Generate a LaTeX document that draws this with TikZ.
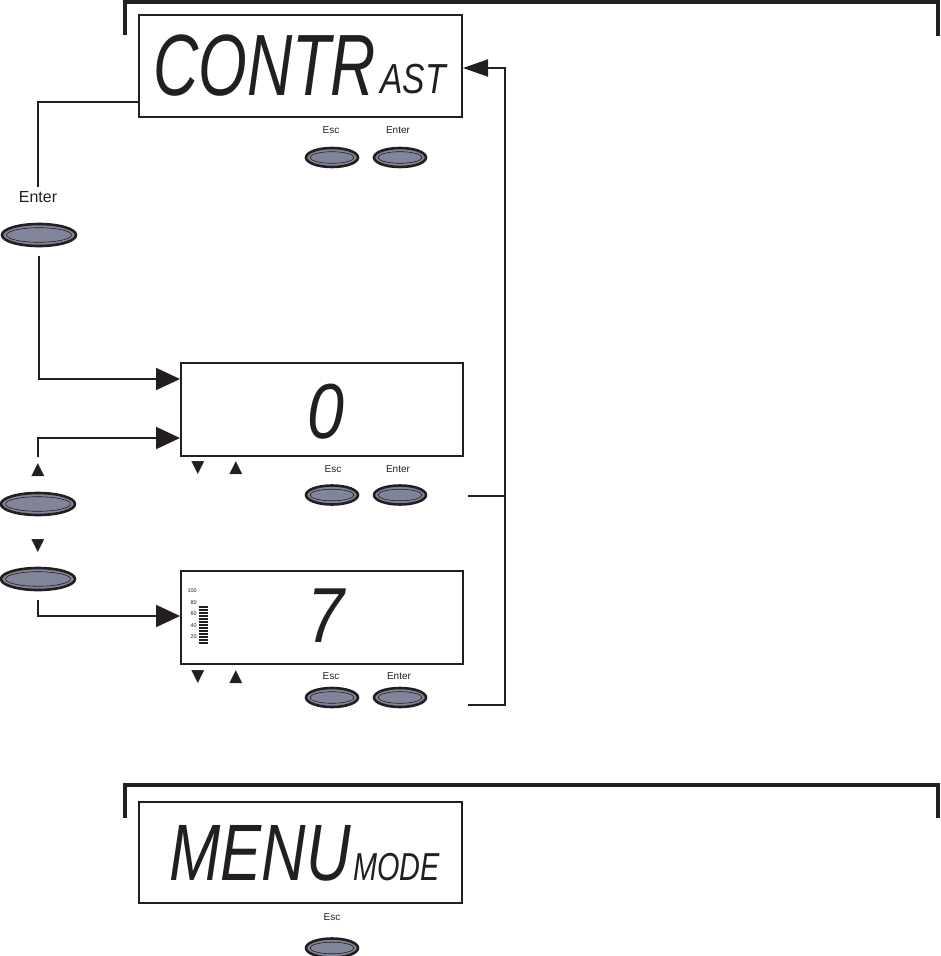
\documentclass[tikz,border=0pt]{standalone}
\usepackage{fontspec}
\setmainfont{Liberation Sans}
\newfontfamily\symfont{DejaVu Sans}
\usetikzlibrary{arrows.meta,shapes.geometric,calc}
\definecolor{ink}{RGB}{35,31,32}
\definecolor{btnfill}{RGB}{128,133,153}
\begin{document}
\begin{tikzpicture}[x=1pt,y=-1pt,
  disp/.style={draw=ink,line width=2pt,rectangle,inner sep=0pt},
  lcd/.style={inner sep=0pt,anchor=base west,font=\itshape,text=ink},
  lbl/.style={inner sep=0pt,font=\fontsize{10}{10}\selectfont,text=ink},
  bigl/.style={inner sep=0pt,font=\fontsize{16}{16}\selectfont,text=ink},
  tri/.style={inner sep=0pt,font=\symfont\fontsize{17}{17}\selectfont,text=ink},
  tiny/.style={inner sep=0pt,anchor=east,font=\fontsize{5.5}{5.5}\selectfont,text=ink},
  btn/.style={ellipse,draw=ink,line width=2.6pt,fill=btnfill,inner sep=0pt,
    minimum width=52pt,minimum height=19pt,
    path picture={\draw[ink,line width=0.6pt] (path picture bounding box.center) ellipse (22pt and 5.8pt);}},
  bigbtn/.style={ellipse,draw=ink,line width=2.6pt,fill=btnfill,inner sep=0pt,
    minimum width=74pt,minimum height=22pt,
    path picture={\draw[ink,line width=0.6pt] (path picture bounding box.center) ellipse (32.5pt and 7.3pt);}},
  conn/.style={draw=ink,line width=2pt},
  arr/.style={draw=ink,line width=2pt,-{Triangle[length=24pt,width=22pt]}},
  bracket/.style={draw=ink,line width=4pt},
  bar/.style={draw=ink,line width=1.6pt}
]
\useasboundingbox (0,0) rectangle (940,956);

% brackets
\draw[bracket] (125,35) |- (938,2) -- (938,36);
\draw[bracket] (125,818) |- (938,785) -- (938,818);

% displays
\node[disp,minimum width=323pt,minimum height=102pt] (d1) at (300.5,66) {};
\node[disp,minimum width=282pt,minimum height=93pt] (d2) at (322,409.5) {};
\node[disp,minimum width=282pt,minimum height=93pt] (d3) at (322,617.5) {};
\node[disp,minimum width=323pt,minimum height=101pt] (d4) at (300.5,852.5) {};

% LCD texts
\node[lcd] (t1) at (153,95) {\fontsize{87}{87}\selectfont\scalebox{0.72}[1]{CONTR}};
\node[lcd] (t1b) at (380,93) {\fontsize{42}{42}\selectfont\scalebox{0.8}[1]{AST}};
\node[lcd] (t2) at (307,438) {\fontsize{78}{78}\selectfont\scalebox{0.85}[1]{0}};
\node[lcd] (t3) at (307,642) {\fontsize{78}{78}\selectfont\scalebox{0.85}[1]{7}};
\node[lcd] (t4) at (169,880) {\fontsize{80}{80}\selectfont\scalebox{0.77}[1]{MENU}};
\node[lcd] (t4b) at (353,880) {\fontsize{39}{39}\selectfont\scalebox{0.74}[1]{MODE}};

% bar graph in d3
\node[tiny] (g100) at (197,591) {100};
\node[tiny] (g80) at (197,603) {80};
\node[tiny] (g60) at (197,614) {60};
\node[tiny] (g40) at (197,626) {40};
\node[tiny] (g20) at (197,637) {20};
\foreach \k in {0,...,12} {\draw[bar] (198.5,607+3*\k) -- (208,607+3*\k);}

% labels and buttons under displays
\node[lbl] (e1) at (331,130) {Esc};
\node[lbl] (n1) at (398,130) {Enter};
\node[btn] (be1) at (332,157.5) {};
\node[btn] (bn1) at (400,157.5) {};

\node[tri] (dn2) at (198,468) {▼};
\node[tri] (up2) at (236,468) {▲};
\node[lbl] (e2) at (333,469) {Esc};
\node[lbl] (n2) at (398,469) {Enter};
\node[btn] (be2) at (332,495) {};
\node[btn] (bn2) at (400,495) {};

\node[tri] (dn3) at (198,677) {▼};
\node[tri] (up3) at (236,677) {▲};
\node[lbl] (e3) at (331,676) {Esc};
\node[lbl] (n3) at (399,676) {Enter};
\node[btn] (be3) at (332,697.5) {};
\node[btn] (bn3) at (400,697.5) {};

\node[lbl] (e4) at (332,917) {Esc};
\node[btn] (be4) at (332,948) {};

% left controls
\node[bigl] (lE) at (38,197.5) {Enter};
\node[bigbtn] (bE) at (39,235) {};
\node[tri] (lUp) at (38,470) {▲};
\node[bigbtn] (bUp) at (38,504) {};
\node[tri] (lDn) at (38,546) {▼};
\node[bigbtn] (bDn) at (38,579) {};

% connectors
\draw[conn] ([yshift=-36pt]d1.west) -| ([yshift=5pt]lE.north);
\draw[arr] ([yshift=-9pt]bE.south) |- ([yshift=30.5pt]d2.west);
\draw[arr] ([yshift=6pt]lUp.north) |- ([yshift=-28.5pt]d2.west);
\draw[arr] ([yshift=-9pt]bDn.south) |- ([yshift=1.5pt]d3.west);

\coordinate (r2) at (468,496);
\coordinate (r3) at (468,705);
\coordinate (rb) at (505,705);
\draw[conn] (r2) -- (r2 -| rb);
\draw[draw=ink,line width=2pt,-{Triangle[length=25pt,width=17pt]}] (r3) -- (rb) |- ([yshift=-2pt]d1.east);
\end{tikzpicture}
\end{document}
